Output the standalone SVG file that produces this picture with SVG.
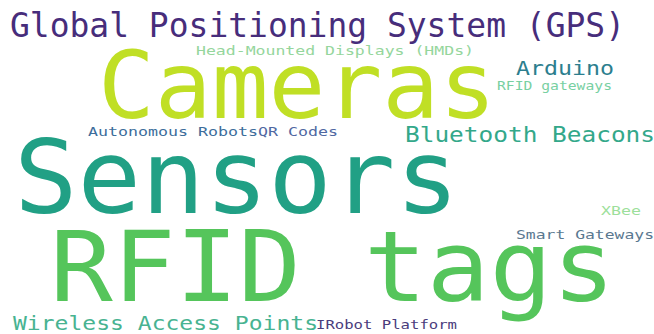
<svg xmlns="http://www.w3.org/2000/svg" width="654" height="334" viewBox="0 0 654 334">
  <style>
    text { font-family: "DejaVu Sans Mono", "Liberation Mono", monospace; }
  </style>
  <rect width="654" height="334" fill="#ffffff"/>
  <!-- word cloud terms, sized by weight -->
  <g id="words">
    <text id="gps" x="10" y="37" font-size="34" fill="#472d7b" textLength="615" lengthAdjust="spacingAndGlyphs">Global Positioning System (GPS)</text>
    <text id="hmd" x="196" y="55" font-size="12" fill="#95d69c" textLength="278" lengthAdjust="spacingAndGlyphs">Head-Mounted Displays (HMDs)</text>
    <text id="cameras" x="98" y="118" font-size="93" fill="#c0df25" textLength="398" lengthAdjust="spacingAndGlyphs">Cameras</text>
    <text id="arduino" x="516" y="75" font-size="20" fill="#2c7e8e" textLength="98" lengthAdjust="spacingAndGlyphs">Arduino</text>
    <text id="rfid-gw" x="497" y="90" font-size="13" fill="#78d0a2" textLength="115" lengthAdjust="spacingAndGlyphs">RFID gateways</text>
    <text id="robots" x="88" y="136" font-size="13" fill="#3d6d9b" textLength="170" lengthAdjust="spacingAndGlyphs">Autonomous Robots</text>
    <text id="qr" x="258" y="136" font-size="13" fill="#5068a2" textLength="80" lengthAdjust="spacingAndGlyphs">QR Codes</text>
    <text id="bluetooth" x="405" y="142" font-size="21" fill="#33a88a" textLength="250" lengthAdjust="spacingAndGlyphs">Bluetooth Beacons</text>
    <text id="sensors" x="14" y="213" font-size="102" fill="#21a085" textLength="445" lengthAdjust="spacingAndGlyphs">Sensors</text>
    <text id="xbee" x="601" y="215" font-size="12" fill="#9ddf9b" textLength="40" lengthAdjust="spacingAndGlyphs">XBee</text>
    <text id="smart-gw" x="516" y="239" font-size="13" fill="#5a7890" textLength="138" lengthAdjust="spacingAndGlyphs">Smart Gateways</text>
    <text id="rfid-tags" x="50" y="301" font-size="98" fill="#55c55b" textLength="565" lengthAdjust="spacingAndGlyphs">RFID tags</text>
    <text id="wap" x="13" y="330" font-size="20" fill="#48b391" textLength="305" lengthAdjust="spacingAndGlyphs">Wireless Access Points</text>
    <text id="irobot" x="316" y="329" font-size="13" fill="#4a3c7c" textLength="141" lengthAdjust="spacingAndGlyphs">IRobot Platform</text>
  </g>
</svg>
